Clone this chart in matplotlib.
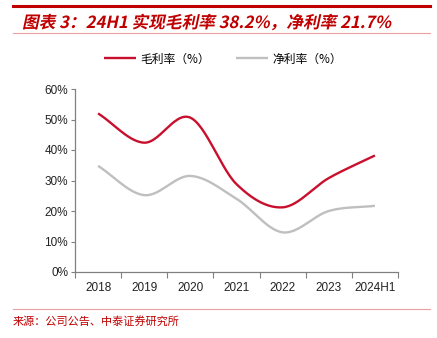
import numpy as np
import matplotlib.pyplot as plt
from matplotlib.lines import Line2D
from matplotlib.textpath import TextPath
from matplotlib.patches import PathPatch
from matplotlib.font_manager import FontProperties
from matplotlib.transforms import Affine2D, IdentityTransform

plt.rcParams['font.family'] = ['Noto Sans CJK SC', 'DejaVu Sans']

years = ['2018', '2019', '2020', '2021', '2022', '2023', '2024H1']
gross = [52.0, 42.4, 50.6, 28.8, 21.2, 30.8, 38.2]
net = [34.8, 25.2, 31.5, 24.0, 13.0, 20.0, 21.7]
yticks = [0, 10, 20, 30, 40, 50, 60]

red = '#C8102E'
grey = '#BFBFBF'


def smooth(x, y, n=30, t=0.5):
    # catmull-rom style curve through the points, like Excel's smoothed line
    x = np.asarray(x, float)
    y = np.asarray(y, float)
    px = np.concatenate([[2 * x[0] - x[1]], x, [2 * x[-1] - x[-2]]])
    py = np.concatenate([[2 * y[0] - y[1]], y, [2 * y[-1] - y[-2]]])
    xs, ys = [], []
    for i in range(1, len(px) - 2):
        s = np.linspace(0, 1, n)
        p0, p1, p2, p3 = [np.array([px[j], py[j]]) for j in range(i - 1, i + 3)]
        m1 = t * (p2 - p0)
        m2 = t * (p3 - p1)
        h00 = 2 * s**3 - 3 * s**2 + 1
        h10 = s**3 - 2 * s**2 + s
        h01 = -2 * s**3 + 3 * s**2
        h11 = s**3 - s**2
        pts = np.outer(h00, p1) + np.outer(h10, m1) + np.outer(h01, p2) + np.outer(h11, m2)
        xs.extend(pts[:, 0])
        ys.extend(pts[:, 1])
    return np.array(xs), np.array(ys)


W, H = 437, 338
fig = plt.figure(figsize=(W / 100, H / 100), dpi=100)

# header and footer decorations
fig.add_artist(Line2D([13 / W, 430 / W], [1 - 6 / H, 1 - 6 / H], color='#C00000', lw=2.2))
fig.add_artist(Line2D([13 / W, 430 / W], [1 - 33 / H, 1 - 33 / H], color='#E8A0A0', lw=0.8))
fig.add_artist(Line2D([13 / W, 430 / W], [1 - 309 / H, 1 - 309 / H], color='#E8A0A0', lw=0.8))

# slanted bold title (CJK font has no italic, so shear the glyph outlines)
title = '图表 3：24H1 实现毛利率 38.2%，净利率 21.7%'
tp = TextPath((0, 0), title, size=12, prop=FontProperties(family='Noto Sans CJK SC', weight='bold'))
tr = Affine2D().scale(100 / 72).skew_deg(12, 0).translate(22, H - 28) + IdentityTransform()
fig.add_artist(PathPatch(tp, transform=tr, color='#C00000', lw=0))

fig.text(13 / W, 1 - 321 / H, '来源：公司公告、中泰证券研究所', color='#C00000', fontsize=8, va='center')

ax = fig.add_axes([75 / W, 66 / H, 323 / W, 183 / H])
xi = np.arange(len(years))
sx, sy = smooth(xi, gross)
ax.plot(sx, sy, color=red, lw=1.7, label='毛利率（%）', solid_capstyle='butt')
sx, sy = smooth(xi, net)
ax.plot(sx, sy, color=grey, lw=1.7, label='净利率（%）', solid_capstyle='butt')

ax.set_xlim(-0.5, len(years) - 0.5)
ax.set_ylim(0, 60)
ax.set_yticks(yticks)
ax.set_yticklabels([f'{v}%' for v in yticks], fontsize=8.5, family=['Liberation Sans'], color='#222222')
ax.set_xticks(np.arange(len(years) + 1) - 0.5)
ax.set_xticklabels([])
ax.set_xticks(xi, minor=True)
ax.set_xticklabels(years, minor=True, fontsize=8.5, family=['Liberation Sans'], color='#222222')
ax.tick_params(axis='x', which='major', length=4, color='#808080', width=0.8)
ax.tick_params(axis='x', which='minor', length=0, pad=7)
ax.tick_params(axis='y', length=3, color='#808080', width=0.8, pad=2)
for s in ['top', 'right']:
    ax.spines[s].set_visible(False)
for s in ['left', 'bottom']:
    ax.spines[s].set_color('#808080')
    ax.spines[s].set_linewidth(0.9)

fig.legend(loc='center', bbox_to_anchor=(0.51, 1 - 59 / H), ncol=2, frameon=False,
           handlelength=2.7, handletextpad=0.4, columnspacing=2.2, prop={'size': 8.5})

fig.savefig('out.png', dpi=100)
